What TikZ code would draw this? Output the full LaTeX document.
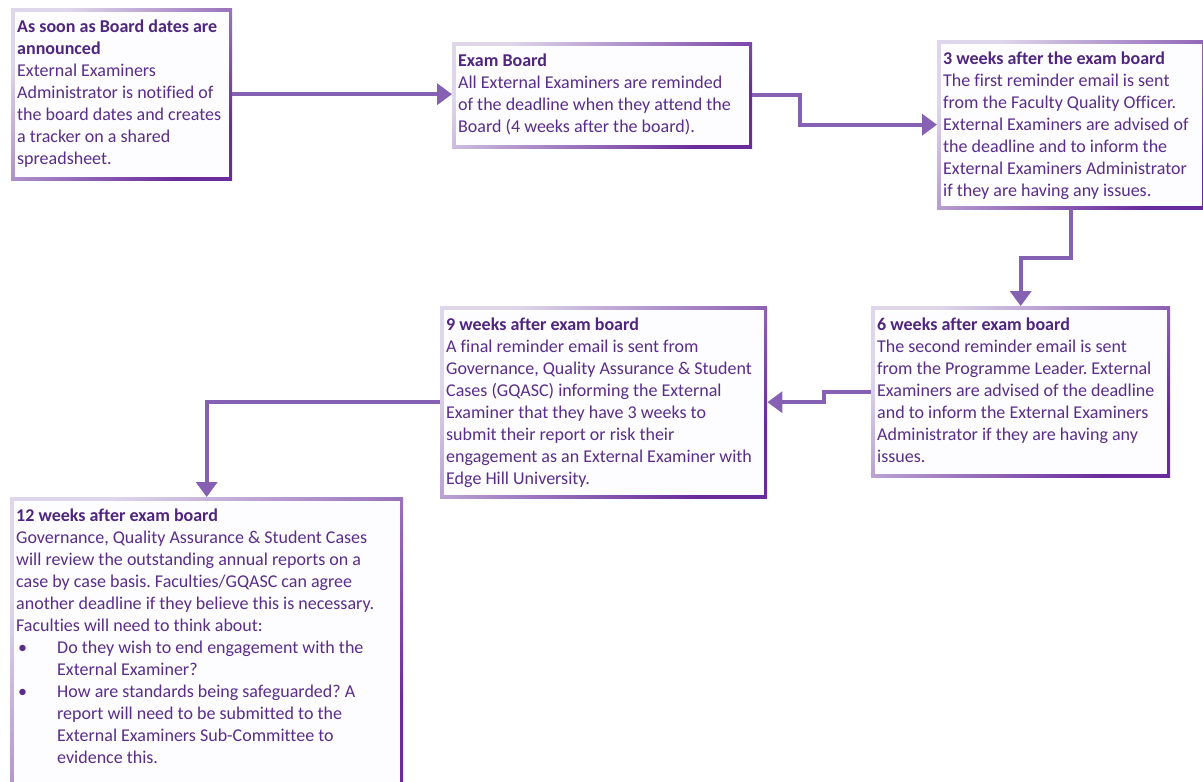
\documentclass[tikz,border=0pt]{standalone}
\usepackage{fontspec}
\setmainfont{Carlito}[Ligatures=NoCommon]
\usetikzlibrary{arrows.meta}
\definecolor{txt}{HTML}{5A2D8C}
\definecolor{hd}{HTML}{4F2580}
\definecolor{arr}{HTML}{8660B2}
\definecolor{rimlight}{HTML}{DED6EA}
\definecolor{rimdark}{HTML}{6A2C9C}
\definecolor{paper}{HTML}{FDFCFE}
\frenchspacing
\newcommand{\flowtext}[3]{\parbox[c][#2][t]{#1}{\fontsize{18}{22}\selectfont\frenchspacing\color{txt}\vspace*{8.4pt}\noindent\begin{tabular}[t]{@{}l@{}}#3\end{tabular}}}
\newcommand{\hd}[1]{\textbf{\color{hd}#1}}
\newcommand{\bul}{\makebox[41pt][l]{\hspace{2pt}\textbullet}}
\newcommand{\ind}{\hspace*{41pt}}
\tikzset{
  flowbox/.style={anchor=north west, rectangle, inner xsep=6pt, inner ysep=0pt,
    path picture={
      \shade[top color=rimlight, bottom color=rimdark, shading angle=45]
        (path picture bounding box.south west) rectangle (path picture bounding box.north east);
      \fill[paper] ([xshift=3.5pt,yshift=-3.5pt]path picture bounding box.north west)
        rectangle ([xshift=-3.5pt,yshift=3.5pt]path picture bounding box.south east);
    }},
  flowarrow/.style={draw=arr, line width=4pt, -{Triangle[length=15pt,width=21pt]}}
}
\begin{document}
\begin{tikzpicture}[x=1pt,y=-1pt]
\useasboundingbox (0,0) rectangle (1203,782);
\node[flowbox] (b1) at (11,8) {\flowtext{209pt}{172pt}{%
\hd{As soon as Board dates are}\\
\hd{announced}\\
External Examiners\\
Administrator is notified of\\
the board dates and creates\\
a tracker on a shared\\
spreadsheet.}};
\node[flowbox] (b2) at (452,42) {\flowtext{288pt}{106pt}{%
\hd{Exam Board}\\
All External Examiners are reminded\\
of the deadline when they attend the\\
Board (4 weeks after the board).}};
\node[flowbox] (b3) at (937,40) {\flowtext{256pt}{169pt}{%
\hd{3 weeks after the exam board}\\
The first reminder email is sent\\
from the Faculty Quality Officer.\\
External Examiners are advised of\\
the deadline and to inform the\\
External Examiners Administrator\\
if they are having any issues.}};
\node[flowbox] (b4) at (871,306) {\flowtext{287pt}{171pt}{%
\hd{6 weeks after exam board}\\
The second reminder email is sent\\
from the Programme Leader. External\\
Examiners are advised of the deadline\\
and to inform the External Examiners\\
Administrator if they are having any\\
issues.}};
\node[flowbox] (b5) at (440,306) {\flowtext{315pt}{192pt}{%
\hd{9 weeks after exam board}\\
A final reminder email is sent from\\
Governance, Quality Assurance \& Student\\
Cases (GQASC) informing the External\\
Examiner that they have 3 weeks to\\
submit their report or risk their\\
engagement as an External Examiner with\\
Edge Hill University.}};
\node[flowbox] (b6) at (10,497) {\flowtext{381pt}{303pt}{%
\hd{12 weeks after exam board}\\
Governance, Quality Assurance \& Student Cases\\
will review the outstanding annual reports on a\\
case by case basis. Faculties/GQASC can agree\\
another deadline if they believe this is necessary.\\
Faculties will need to think about:\\
\bul Do they wish to end engagement with the\\
\ind External Examiner?\\
\bul How are standards being safeguarded? A\\
\ind report will need to be submitted to the\\
\ind External Examiners Sub-Committee to\\
\ind evidence this.}};
\draw[flowarrow] (b1.east) -- (b1.east -| b2.west);
\draw[flowarrow] (b2.east) -- ++(48,0) |- (b3.west);
\draw[flowarrow] (b3.south) -- ++(0,49) -| (b4.north);
\draw[flowarrow] (b4.west) -- ++(-47,0) |- (b5.east);
\draw[flowarrow] (b5.west) -| (b6.north);
\end{tikzpicture}
\end{document}
